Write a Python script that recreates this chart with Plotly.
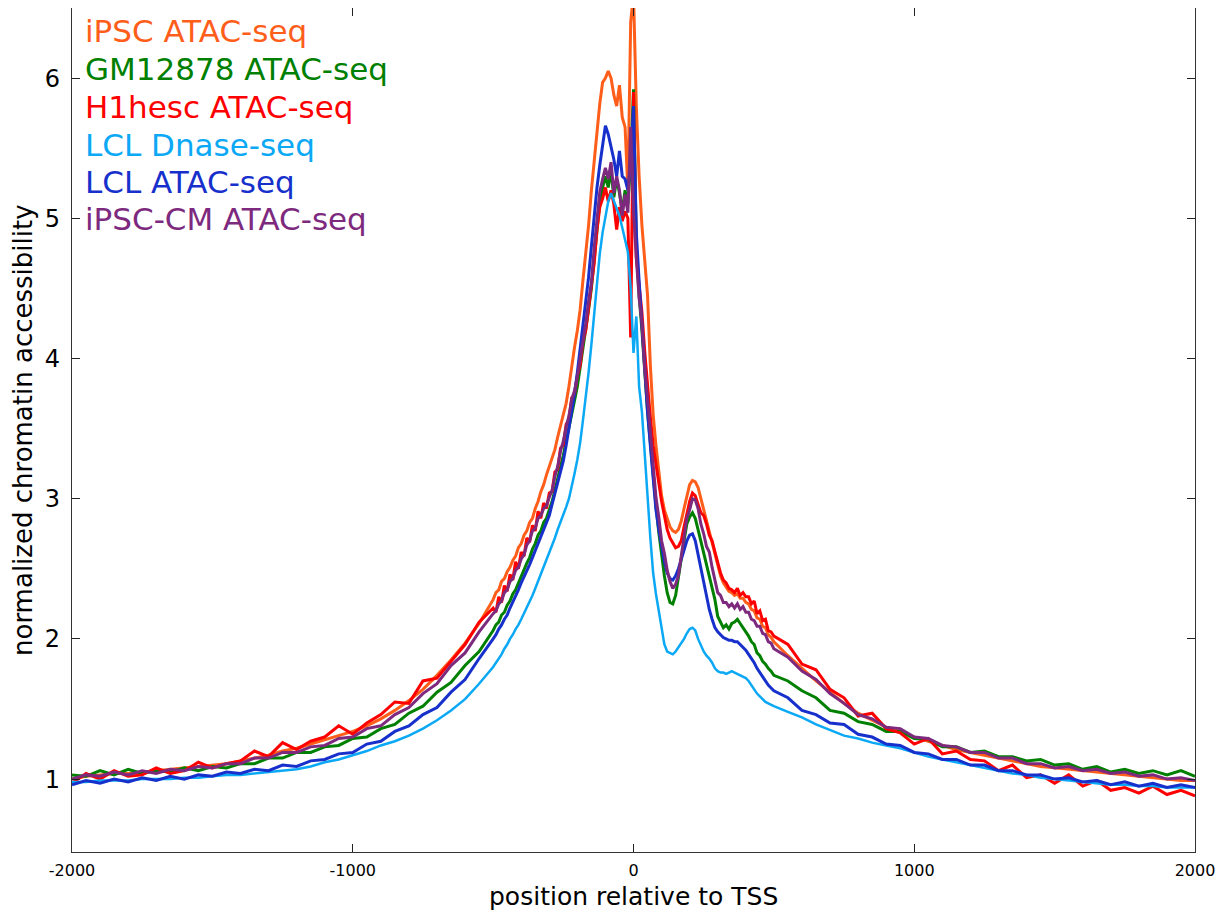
import plotly.graph_objects as go

# ---------------- data ----------------
POS_LEFT = list(range(-2000, -500, 50))      # 30 positions
POS_CORE = list(range(-500, 501, 10))        # 101 positions
POS_RIGHT = list(range(550, 2001, 50))       # 30 positions
POSITIONS = POS_LEFT + POS_CORE + POS_RIGHT

SERIES_NAMES = ["iPSC ATAC-seq", "GM12878 ATAC-seq", "H1hesc ATAC-seq",
                "LCL Dnase-seq", "LCL ATAC-seq", "iPSC-CM ATAC-seq"]
SERIES_COLORS = ["#FF5E1A", "#008000", "#FF0000", "#0AA8F5", "#1730CC", "#7D2A7E"]

ipsc_atac = (
    [1.00, 1.02, 1.03, 1.04, 1.04, 1.05, 1.06, 1.07, 1.08, 1.09, 1.10, 1.11, 1.13, 1.15, 1.17,
     1.20, 1.22, 1.25, 1.28, 1.31, 1.34, 1.38, 1.43, 1.49, 1.56, 1.64, 1.74, 1.85, 1.97, 2.11]
    + [2.28, 2.33, 2.35, 2.41, 2.43, 2.48, 2.51, 2.56, 2.59, 2.65,
       2.68, 2.74, 2.77, 2.83, 2.86, 2.93, 2.98, 3.05, 3.10, 3.17,
       3.23, 3.30, 3.35, 3.44, 3.52, 3.60, 3.68, 3.80, 3.96, 4.08,
       4.20, 4.35, 4.56, 4.75, 4.95, 5.20, 5.40, 5.65, 5.82, 5.97,
       6.00, 6.05, 6.00, 5.88, 5.80, 5.95, 5.72, 5.65, 5.20, 6.40,
       6.60, 5.80, 5.30, 4.95, 4.70, 4.45, 3.95, 3.60, 3.38, 3.18,
       3.02, 2.92, 2.86, 2.80, 2.77, 2.76, 2.78, 2.84, 2.93, 3.02,
       3.10, 3.13, 3.12, 3.08, 3.00, 2.92, 2.84, 2.76, 2.68, 2.60,
       2.52, 2.45, 2.40, 2.37, 2.34, 2.33, 2.31, 2.32, 2.29, 2.29,
       2.26, 2.25, 2.21, 2.20, 2.15, 2.14, 2.09, 2.08, 2.03, 2.01,
       1.98]
    + [1.88, 1.79, 1.70, 1.62, 1.54, 1.47, 1.42, 1.37, 1.34, 1.30, 1.27, 1.24, 1.21, 1.19, 1.17,
       1.15, 1.13, 1.11, 1.09, 1.08, 1.07, 1.06, 1.05, 1.04, 1.03, 1.02, 1.01, 1.00, 0.99, 0.99]
)

gm12878_atac = (
    [1.03, 1.02, 1.06, 1.03, 1.07, 1.04, 1.06, 1.05, 1.08, 1.06, 1.09, 1.08, 1.11, 1.11, 1.15,
     1.15, 1.19, 1.19, 1.23, 1.24, 1.29, 1.30, 1.36, 1.39, 1.47, 1.52, 1.62, 1.69, 1.81, 1.91]
    + [2.06, 2.10, 2.12, 2.17, 2.19, 2.24, 2.27, 2.32, 2.35, 2.40,
       2.45, 2.49, 2.54, 2.58, 2.64, 2.68, 2.74, 2.77, 2.83, 2.86,
       2.92, 2.98, 3.06, 3.14, 3.23, 3.31, 3.41, 3.50, 3.61, 3.70,
       3.80, 3.93, 4.06, 4.20, 4.35, 4.50, 4.72, 4.94, 5.12, 5.22,
       5.30, 5.22, 5.34, 5.15, 5.28, 5.18, 5.05, 5.20, 5.10, 5.40,
       5.92, 4.80, 4.45, 4.20, 3.90, 3.62, 3.40, 3.15, 2.95, 2.76,
       2.60, 2.45, 2.33, 2.26, 2.25, 2.31, 2.44, 2.58, 2.70, 2.82,
       2.87, 2.90, 2.86, 2.78, 2.70, 2.62, 2.53, 2.45, 2.36, 2.28,
       2.16, 2.12, 2.08, 2.10, 2.07, 2.11, 2.12, 2.14, 2.11, 2.08,
       2.05, 2.02, 1.98, 1.96, 1.90, 1.88, 1.84, 1.82, 1.79, 1.77,
       1.74]
    + [1.70, 1.63, 1.58, 1.49, 1.47, 1.41, 1.39, 1.34, 1.34, 1.29, 1.28, 1.23, 1.23, 1.19, 1.20,
       1.16, 1.16, 1.13, 1.14, 1.10, 1.11, 1.07, 1.09, 1.05, 1.07, 1.04, 1.06, 1.03, 1.06, 1.02]
)

h1hesc_atac = (
    [0.97, 1.04, 1.00, 1.06, 1.02, 1.03, 1.08, 1.04, 1.06, 1.12, 1.08, 1.11, 1.13, 1.20, 1.16,
     1.26, 1.21, 1.27, 1.30, 1.38, 1.32, 1.40, 1.46, 1.55, 1.54, 1.70, 1.72, 1.84, 1.96, 2.12]
    + [2.22, 2.19, 2.30, 2.26, 2.38, 2.34, 2.46, 2.42, 2.55, 2.50,
       2.62, 2.59, 2.72, 2.69, 2.81, 2.77, 2.91, 2.86, 2.97, 2.93,
       3.04, 3.05, 3.19, 3.21, 3.36, 3.38, 3.53, 3.56, 3.72, 3.74,
       3.88, 3.95, 4.12, 4.20, 4.35, 4.50, 4.68, 4.92, 5.08, 5.14,
       5.22, 5.12, 5.20, 5.10, 4.92, 5.08, 4.98, 5.05, 5.00, 4.15,
       5.90, 4.72, 4.52, 4.33, 4.05, 3.80, 3.58, 3.38, 3.24, 3.12,
       2.98, 2.88, 2.78, 2.72, 2.68, 2.65, 2.66, 2.70, 2.80, 2.90,
       2.98, 3.04, 3.02, 2.96, 2.90, 2.88, 2.82, 2.74, 2.70, 2.62,
       2.55, 2.47, 2.42, 2.40, 2.36, 2.35, 2.33, 2.36, 2.31, 2.33,
       2.30, 2.30, 2.25, 2.27, 2.18, 2.20, 2.13, 2.14, 2.06, 2.05,
       2.02]
    + [1.96, 1.82, 1.78, 1.64, 1.58, 1.45, 1.47, 1.36, 1.33, 1.25, 1.29, 1.18, 1.20, 1.14, 1.13,
       1.06, 1.10, 1.01, 1.03, 0.97, 1.03, 0.95, 0.99, 0.92, 0.94, 0.90, 0.95, 0.89, 0.92, 0.88]
)

lcl_dnase = (
    [0.98, 0.98, 0.99, 0.99, 0.99, 1.00, 1.00, 1.00, 1.01, 1.01, 1.02, 1.03, 1.03, 1.04, 1.05,
     1.06, 1.07, 1.09, 1.12, 1.14, 1.17, 1.20, 1.24, 1.27, 1.31, 1.36, 1.42, 1.49, 1.57, 1.68]
    + [1.80, 1.83, 1.86, 1.89, 1.93, 1.96, 2.00, 2.03, 2.07, 2.10,
       2.14, 2.18, 2.22, 2.26, 2.31, 2.36, 2.41, 2.46, 2.51, 2.56,
       2.62, 2.67, 2.72, 2.78, 2.83, 2.88, 2.94, 3.00, 3.08, 3.18,
       3.28, 3.40, 3.56, 3.72, 3.90, 4.10, 4.32, 4.55, 4.75, 4.90,
       5.02, 5.12, 5.18, 5.12, 5.07, 5.02, 4.94, 4.85, 4.76, 4.50,
       4.04, 4.30, 3.80, 3.62, 3.35, 3.02, 2.72, 2.47, 2.32, 2.20,
       2.06, 1.96, 1.91, 1.90, 1.89, 1.91, 1.94, 1.97, 2.00, 2.04,
       2.07, 2.08, 2.06, 2.00, 1.95, 1.91, 1.88, 1.86, 1.83, 1.79,
       1.77, 1.76, 1.76, 1.75, 1.76, 1.77, 1.76, 1.75, 1.74, 1.73,
       1.72, 1.70, 1.67, 1.64, 1.61, 1.59, 1.57, 1.55, 1.54, 1.53,
       1.52]
    + [1.48, 1.44, 1.39, 1.35, 1.31, 1.29, 1.26, 1.24, 1.22, 1.19, 1.16, 1.14, 1.12, 1.10, 1.08,
       1.06, 1.04, 1.03, 1.01, 1.00, 0.99, 0.98, 0.97, 0.96, 0.96, 0.95, 0.95, 0.94, 0.94, 0.94]
)

lcl_atac = (
    [0.96, 0.99, 0.97, 1.00, 0.98, 1.01, 0.99, 1.02, 1.00, 1.03, 1.02, 1.05, 1.04, 1.07, 1.06,
     1.10, 1.09, 1.13, 1.14, 1.18, 1.19, 1.25, 1.27, 1.34, 1.38, 1.46, 1.51, 1.62, 1.71, 1.86]
    + [2.00, 2.03, 2.07, 2.10, 2.14, 2.17, 2.22, 2.26, 2.31, 2.35,
       2.40, 2.44, 2.48, 2.53, 2.58, 2.63, 2.67, 2.73, 2.78, 2.83,
       2.88, 2.96, 3.04, 3.13, 3.20, 3.27, 3.38, 3.50, 3.63, 3.75,
       3.90, 4.06, 4.22, 4.40, 4.58, 4.80, 5.02, 5.22, 5.38, 5.52,
       5.66, 5.60, 5.52, 5.42, 5.30, 5.48, 5.30, 5.28, 5.20, 5.40,
       5.80, 4.90, 4.55, 4.25, 3.90, 3.62, 3.38, 3.12, 2.92, 2.78,
       2.66, 2.55, 2.47, 2.43, 2.42, 2.45, 2.50, 2.57, 2.64, 2.70,
       2.74, 2.75, 2.70, 2.60, 2.49, 2.40, 2.31, 2.21, 2.14, 2.08,
       2.05, 2.03, 2.01, 2.00, 1.99, 1.99, 1.98, 1.98, 1.96, 1.94,
       1.92, 1.89, 1.86, 1.83, 1.79, 1.76, 1.73, 1.70, 1.67, 1.65,
       1.63]
    + [1.58, 1.49, 1.46, 1.40, 1.39, 1.32, 1.30, 1.25, 1.24, 1.19, 1.18, 1.14, 1.14, 1.10, 1.10,
       1.06, 1.06, 1.03, 1.03, 1.00, 1.01, 0.98, 0.99, 0.96, 0.98, 0.95, 0.97, 0.94, 0.96, 0.94]
)

ipsc_cm_atac = (
    [1.00, 1.03, 1.02, 1.05, 1.03, 1.06, 1.04, 1.07, 1.06, 1.09, 1.08, 1.11, 1.11, 1.15, 1.15,
     1.19, 1.19, 1.23, 1.24, 1.29, 1.30, 1.36, 1.38, 1.46, 1.51, 1.61, 1.68, 1.81, 1.90, 2.05]
    + [2.18, 2.20, 2.25, 2.27, 2.33, 2.35, 2.41, 2.43, 2.49, 2.51,
       2.57, 2.60, 2.67, 2.70, 2.77, 2.79, 2.86, 2.88, 2.93, 2.95,
       3.01, 3.06, 3.16, 3.23, 3.34, 3.41, 3.51, 3.59, 3.71, 3.77,
       3.87, 3.99, 4.14, 4.25, 4.41, 4.54, 4.79, 5.01, 5.19, 5.28,
       5.36, 5.28, 5.40, 5.18, 5.30, 5.20, 5.02, 5.17, 5.04, 5.65,
       5.05, 4.72, 4.43, 4.26, 3.93, 3.71, 3.48, 3.26, 3.01, 2.87,
       2.70, 2.61, 2.49, 2.41, 2.36, 2.39, 2.45, 2.59, 2.71, 2.86,
       2.92, 3.00, 2.99, 2.93, 2.82, 2.75, 2.66, 2.62, 2.51, 2.43,
       2.33, 2.31, 2.26, 2.26, 2.23, 2.25, 2.22, 2.25, 2.21, 2.23,
       2.19, 2.19, 2.14, 2.13, 2.09, 2.09, 2.04, 2.03, 1.98, 1.97,
       1.93]
    + [1.87, 1.77, 1.71, 1.61, 1.54, 1.46, 1.43, 1.37, 1.36, 1.30, 1.29, 1.24, 1.23, 1.19, 1.19,
       1.15, 1.15, 1.11, 1.11, 1.08, 1.09, 1.06, 1.07, 1.04, 1.05, 1.02, 1.03, 1.00, 1.01, 0.99]
)

SERIES_VALUES = [ipsc_atac, gm12878_atac, h1hesc_atac, lcl_dnase, lcl_atac, ipsc_cm_atac]
SERIES_WIDTHS = [3.0, 3.0, 3.0, 2.5, 3.0, 3.0]

X_TICK_VALS = [-2000, -1000, 0, 1000, 2000]
X_TICK_TEXT = ["-2000", "-1000", "0", "1000", "2000"]
Y_TICK_VALS = [1, 2, 3, 4, 5, 6]
Y_TICK_TEXT = ["1", "2", "3", "4", "5", "6"]
X_TITLE = "position relative to TSS"
Y_TITLE = "normalized chromatin accessibility"

# ---------------- figure ----------------
# The page body has an 8 px margin, so the figure is drawn at (8, 8).
OFF = 8
W, H = 1220, 905
PLOT_L, PLOT_R, PLOT_T, PLOT_B = 72, 1195, 8, 852       # target pixels in the window
ML, MT = PLOT_L - OFF, PLOT_T - OFF
MR = (OFF + W) - PLOT_R
MB = (OFF + H) - PLOT_B
PW, PH = W - ML - MR, H - MT - MB
FONT = "DejaVu Sans"


def px_to_paper(xp, yp):
    return (xp - PLOT_L) / PW, (PLOT_B - yp) / PH


fig = go.Figure()
for name, color, vals, lw in zip(SERIES_NAMES, SERIES_COLORS, SERIES_VALUES, SERIES_WIDTHS):
    assert len(vals) == len(POSITIONS)
    fig.add_trace(go.Scatter(x=POSITIONS, y=vals, mode="lines", name=name,
                             line=dict(color=color, width=lw), showlegend=False))

# legend as coloured text (as in the reference)
legend_centers_px = [31, 69, 107, 145, 182, 219]
annotations = []
for name, color, cy in zip(SERIES_NAMES, SERIES_COLORS, legend_centers_px):
    ax, ay = px_to_paper(83, cy)
    annotations.append(dict(xref="paper", yref="paper", x=ax, y=ay,
                            xanchor="left", yanchor="middle", showarrow=False,
                            text=name, font=dict(family=FONT, size=31, color=color)))
tx, ty = px_to_paper(633, 896)
annotations.append(dict(xref="paper", yref="paper", x=tx, y=ty,
                        xanchor="center", yanchor="middle", showarrow=False,
                        text=X_TITLE, font=dict(family=FONT, size=25, color="black")))
tx, ty = px_to_paper(23, 430)
annotations.append(dict(xref="paper", yref="paper", x=tx, y=ty,
                        xanchor="center", yanchor="middle", showarrow=False, textangle=-90,
                        text=Y_TITLE, font=dict(family=FONT, size=26, color="black")))

axis_common = dict(showgrid=False, zeroline=False, showline=True, linecolor="#333333",
                   linewidth=1.3, mirror="ticks", ticks="inside", tickcolor="#222222",
                   tickwidth=1.2, ticklen=8)

fig.update_layout(
    width=W, height=H,
    margin=dict(l=ML, r=MR, t=MT, b=MB, autoexpand=False),
    paper_bgcolor="white", plot_bgcolor="white",
    font=dict(family=FONT, color="black"),
    annotations=annotations,
    xaxis=dict(range=[-2000, 2000], tickmode="array", tickvals=X_TICK_VALS,
               ticktext=X_TICK_TEXT, tickfont=dict(size=16, family=FONT, color="black"),
               ticklabelstandoff=4, **axis_common),
    yaxis=dict(range=[0.48, 6.5], tickmode="array", tickvals=Y_TICK_VALS,
               ticktext=Y_TICK_TEXT, tickfont=dict(size=24, family=FONT, color="black"),
               ticklabelstandoff=6, **axis_common),
)

fig.write_html("out.html")
